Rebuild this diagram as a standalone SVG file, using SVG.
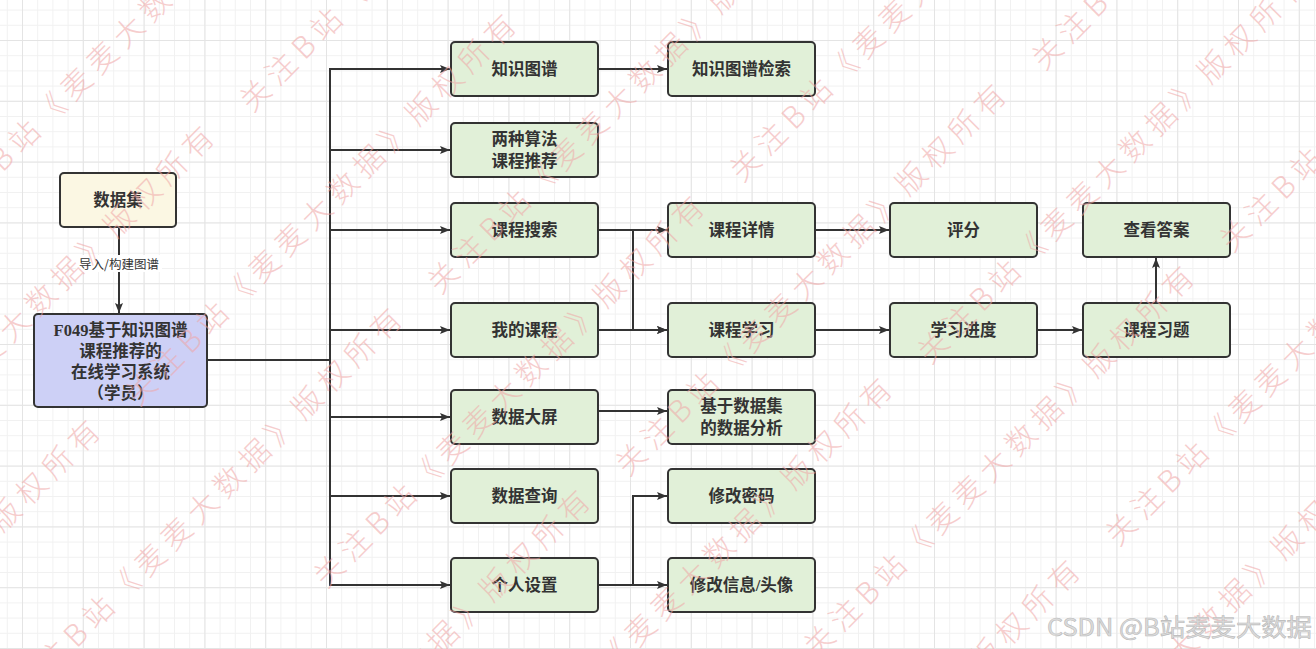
<svg xmlns="http://www.w3.org/2000/svg" width="1316" height="649" viewBox="0 0 1316 649">
  <style>
    .box{stroke:#333333;stroke-width:2}
    .g{fill:#e1f0d8}
    .lbl{font-family:"Liberation Serif","Noto Sans CJK SC",serif;font-size:16.5px;font-weight:600;fill:#333333;text-anchor:middle;dominant-baseline:central}
    .edge{fill:none;stroke:#333333;stroke-width:2}
    .elbl{font-family:"Noto Sans CJK SC","Liberation Sans",sans-serif;font-size:12.5px;fill:#333333;text-anchor:middle;dominant-baseline:central}
    .wm{font-family:"Noto Sans CJK SC","Liberation Serif",serif;font-size:30px;font-weight:300;letter-spacing:7px;fill:#f0a6a6;opacity:0.55}
  </style>
  <defs>
    <pattern id="minor" patternUnits="userSpaceOnUse" x="6.8" y="9.6" width="15.2" height="15.2">
      <path d="M0.5,0 V15.2 M0,0.5 H15.2" stroke="#f1f1f1" stroke-width="1" fill="none"/>
    </pattern>
    <pattern id="major" patternUnits="userSpaceOnUse" x="22" y="40" width="60.8" height="60.8">
      <path d="M0.5,0 V60.8 M0,0.5 H60.8" stroke="#e4e4e4" stroke-width="1" fill="none"/>
    </pattern>
    <marker id="arr" viewBox="0 0 10 8" markerWidth="10" markerHeight="8" refX="10" refY="4" orient="auto" markerUnits="userSpaceOnUse">
      <path d="M0,0 L10,4 L0,8 L2,4 Z" fill="#333333"/>
    </marker>
  </defs>

  <rect x="0" y="0" width="1316" height="649" fill="#ffffff"/>
  <rect x="0" y="0" width="1316" height="649" fill="url(#minor)"/>
  <rect x="0" y="0" width="1316" height="649" fill="url(#major)"/>

  <g id="connectors">
    <path class="edge" d="M119,227 V313" marker-end="url(#arr)"/>
    <path class="edge" d="M207,360 H330 V69 H450" marker-end="url(#arr)"/>
    <path class="edge" d="M207,360 H330 V150 H450" marker-end="url(#arr)"/>
    <path class="edge" d="M207,360 H330 V230 H450" marker-end="url(#arr)"/>
    <path class="edge" d="M207,360 H330 V330 H450" marker-end="url(#arr)"/>
    <path class="edge" d="M207,360 H330 V417 H450" marker-end="url(#arr)"/>
    <path class="edge" d="M207,360 H330 V496 H450" marker-end="url(#arr)"/>
    <path class="edge" d="M207,360 H330 V585 H450" marker-end="url(#arr)"/>
    <path class="edge" d="M598,69 H667" marker-end="url(#arr)"/>
    <path class="edge" d="M598,230 H667" marker-end="url(#arr)"/>
    <path class="edge" d="M598,230 H633 V330 H667" marker-end="url(#arr)"/>
    <path class="edge" d="M598,330 H667" marker-end="url(#arr)"/>
    <path class="edge" d="M598,411 H667" marker-end="url(#arr)"/>
    <path class="edge" d="M598,585 H633 V496 H667" marker-end="url(#arr)"/>
    <path class="edge" d="M598,585 H667" marker-end="url(#arr)"/>
    <path class="edge" d="M815,230 H889" marker-end="url(#arr)"/>
    <path class="edge" d="M815,330 H889" marker-end="url(#arr)"/>
    <path class="edge" d="M1037,330 H1082" marker-end="url(#arr)"/>
    <path class="edge" d="M1156,303 V258" marker-end="url(#arr)"/>
    <rect x="76" y="255" width="86" height="17" fill="#ffffff"/>
    <text class="elbl" x="119" y="263">导入/构建图谱</text>
  </g>

  <g id="n-dataset">
    <rect class="box" x="60" y="173" width="116" height="54" rx="4" fill="#fbf7e3"/>
    <text class="lbl" x="118" y="200">数据集</text>
  </g>
  <g id="n-main">
    <rect class="box" x="34" y="314" width="173" height="93" rx="4" fill="#cdd0f6"/>
    <text class="lbl" x="120.5" y="330">F049基于知识图谱</text>
    <text class="lbl" x="120.5" y="351">课程推荐的</text>
    <text class="lbl" x="120.5" y="372">在线学习系统</text>
    <text class="lbl" x="120.5" y="393">（学员）</text>
  </g>

  <g id="n-kg">
    <rect class="box g" x="451" y="42" width="147" height="54" rx="4"/>
    <text class="lbl" x="524.5" y="69">知识图谱</text>
  </g>
  <g id="n-rec">
    <rect class="box g" x="451" y="123" width="147" height="54" rx="4"/>
    <text class="lbl" x="524.5" y="139">两种算法</text>
    <text class="lbl" x="524.5" y="161">课程推荐</text>
  </g>
  <g id="n-search">
    <rect class="box g" x="451" y="203" width="147" height="54" rx="4"/>
    <text class="lbl" x="524.5" y="230">课程搜索</text>
  </g>
  <g id="n-mycourse">
    <rect class="box g" x="451" y="303" width="147" height="54" rx="4"/>
    <text class="lbl" x="524.5" y="330">我的课程</text>
  </g>
  <g id="n-screen">
    <rect class="box g" x="451" y="390" width="147" height="54" rx="4"/>
    <text class="lbl" x="524.5" y="417">数据大屏</text>
  </g>
  <g id="n-query">
    <rect class="box g" x="451" y="469" width="147" height="54" rx="4"/>
    <text class="lbl" x="524.5" y="496">数据查询</text>
  </g>
  <g id="n-settings">
    <rect class="box g" x="451" y="558" width="147" height="54" rx="4"/>
    <text class="lbl" x="524.5" y="585">个人设置</text>
  </g>

  <g id="n-kgsearch">
    <rect class="box g" x="668" y="42" width="147" height="54" rx="4"/>
    <text class="lbl" x="741.5" y="69">知识图谱检索</text>
  </g>
  <g id="n-detail">
    <rect class="box g" x="668" y="203" width="147" height="54" rx="4"/>
    <text class="lbl" x="741.5" y="230">课程详情</text>
  </g>
  <g id="n-study">
    <rect class="box g" x="668" y="303" width="147" height="54" rx="4"/>
    <text class="lbl" x="741.5" y="330">课程学习</text>
  </g>
  <g id="n-analysis">
    <rect class="box g" x="668" y="390" width="147" height="54" rx="4"/>
    <text class="lbl" x="741.5" y="406">基于数据集</text>
    <text class="lbl" x="741.5" y="428">的数据分析</text>
  </g>
  <g id="n-pwd">
    <rect class="box g" x="668" y="469" width="147" height="54" rx="4"/>
    <text class="lbl" x="741.5" y="496">修改密码</text>
  </g>
  <g id="n-info">
    <rect class="box g" x="668" y="558" width="147" height="54" rx="4"/>
    <text class="lbl" x="741.5" y="585">修改信息/头像</text>
  </g>

  <g id="n-score">
    <rect class="box g" x="890" y="203" width="147" height="54" rx="4"/>
    <text class="lbl" x="963.5" y="230">评分</text>
  </g>
  <g id="n-progress">
    <rect class="box g" x="890" y="303" width="147" height="54" rx="4"/>
    <text class="lbl" x="963.5" y="330">学习进度</text>
  </g>
  <g id="n-answer">
    <rect class="box g" x="1083" y="203" width="147" height="54" rx="4"/>
    <text class="lbl" x="1156.5" y="230">查看答案</text>
  </g>
  <g id="n-exercise">
    <rect class="box g" x="1083" y="303" width="147" height="54" rx="4"/>
    <text class="lbl" x="1156.5" y="330">课程习题</text>
  </g>

  <g id="watermark">
    <text class="wm" transform="translate(-47,207) rotate(-45)" x="-15" y="11">关注B站《麦麦大数据》版权所有</text>
    <text class="wm" transform="translate(141,389) rotate(-45)" x="-15" y="11">关注B站《麦麦大数据》版权所有</text>
    <text class="wm" transform="translate(329,571) rotate(-45)" x="-15" y="11">关注B站《麦麦大数据》版权所有</text>
    <text class="wm" transform="translate(27,683) rotate(-45)" x="-15" y="11">关注B站《麦麦大数据》版权所有</text>
    <text class="wm" transform="translate(-161,501) rotate(-45)" x="-15" y="11">关注B站《麦麦大数据》版权所有</text>
    <text class="wm" transform="translate(-275,795) rotate(-45)" x="-15" y="11">关注B站《麦麦大数据》版权所有</text>
    <text class="wm" transform="translate(215,865) rotate(-45)" x="-15" y="11">关注B站《麦麦大数据》版权所有</text>
    <text class="wm" transform="translate(517,753) rotate(-45)" x="-15" y="11">关注B站《麦麦大数据》版权所有</text>
    <text class="wm" transform="translate(705,935) rotate(-45)" x="-15" y="11">关注B站《麦麦大数据》版权所有</text>
    <text class="wm" transform="translate(255,95) rotate(-45)" x="-15" y="11">关注B站《麦麦大数据》版权所有</text>
    <text class="wm" transform="translate(443,277) rotate(-45)" x="-15" y="11">关注B站《麦麦大数据》版权所有</text>
    <text class="wm" transform="translate(631,459) rotate(-45)" x="-15" y="11">关注B站《麦麦大数据》版权所有</text>
    <text class="wm" transform="translate(819,641) rotate(-45)" x="-15" y="11">关注B站《麦麦大数据》版权所有</text>
    <text class="wm" transform="translate(1007,823) rotate(-45)" x="-15" y="11">关注B站《麦麦大数据》版权所有</text>
    <text class="wm" transform="translate(745,165) rotate(-45)" x="-15" y="11">关注B站《麦麦大数据》版权所有</text>
    <text class="wm" transform="translate(933,347) rotate(-45)" x="-15" y="11">关注B站《麦麦大数据》版权所有</text>
    <text class="wm" transform="translate(1121,529) rotate(-45)" x="-15" y="11">关注B站《麦麦大数据》版权所有</text>
    <text class="wm" transform="translate(1047,53) rotate(-45)" x="-15" y="11">关注B站《麦麦大数据》版权所有</text>
    <text class="wm" transform="translate(1235,235) rotate(-45)" x="-15" y="11">关注B站《麦麦大数据》版权所有</text>
  </g>

  <text x="1047" y="636" textLength="265" lengthAdjust="spacingAndGlyphs" font-family="Noto Sans CJK SC, Liberation Sans, sans-serif" font-size="24" fill="#dcdcdc" stroke="#b9b9b9" stroke-width="0.6">CSDN @B站麦麦大数据</text>
</svg>
